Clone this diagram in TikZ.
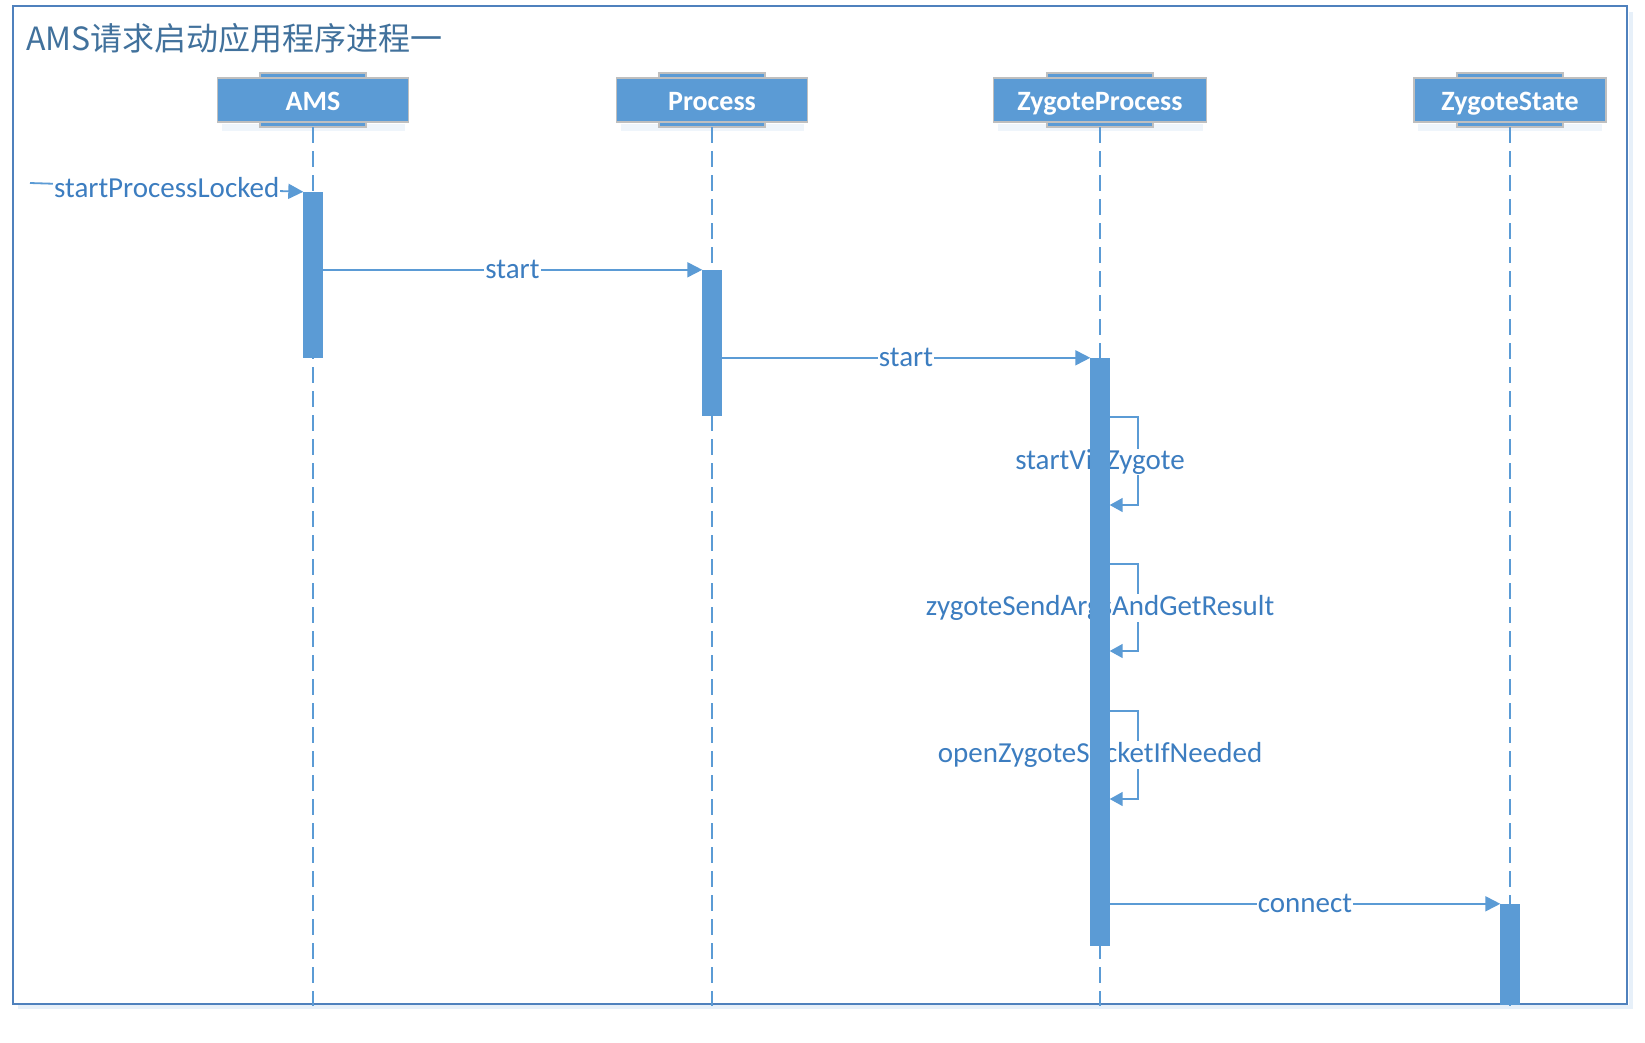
\documentclass[tikz,border=0pt]{standalone}
\usepackage{fontspec}
\setmainfont{Carlito}
\newfontfamily\cjkfont{Noto Sans CJK SC}
\usetikzlibrary{arrows.meta}
\definecolor{lineblue}{HTML}{5B9BD5}
\definecolor{txtblue}{HTML}{3C7DC0}
\definecolor{frameblue}{HTML}{4F81BD}
\definecolor{titleblue}{HTML}{41719C}
\definecolor{headborder}{HTML}{BFBFBF}
\tikzset{
  headbox/.style={rectangle, fill=lineblue, draw=headborder, line width=1.5pt,
    minimum height=44pt, inner sep=0pt, text=white, text height=22.4pt, text depth=0.7pt,
    font=\fontsize{28}{30}\selectfont\bfseries},
  headtab/.style={fill=lineblue, draw=headborder, line width=1.5pt},
  lifeline/.style={draw=lineblue, line width=1.8pt, dash pattern=on 16pt off 8pt},
  actbar/.style={rectangle, draw=none, inner sep=0pt, minimum width=19pt},
  msg/.style={draw=lineblue, line width=1.8pt, -{Triangle[length=15pt,width=15pt]}},
  selfmsg/.style={draw=lineblue, line width=1.6pt, -{Triangle[length=13pt,width=14pt]}},
  msglabel/.style={fill=white, inner sep=1pt, text=txtblue,
    font=\fontsize{29}{31}\selectfont},
}
\begin{document}
\begin{tikzpicture}[x=1pt,y=-1pt]
\useasboundingbox (0,0) rectangle (1645,1042);
\fill[white] (0,0) rectangle (1645,1042);
% frame with soft shadow
\draw[lineblue!15, line width=4pt] (18,1007) -- (1631,1007) -- (1631,12);
\draw[frameblue, line width=1.5pt] (13,6) rectangle (1627,1004);
\node[anchor=west, text=titleblue, inner sep=0pt, font=\cjkfont\fontsize{32}{35}\selectfont] (title) at (26,38) {AMS请求启动应用程序进程一};

% lifeline heads
\foreach \x/\w/\nm/\txt in {313/191/ams/AMS, 712/191/proc/Process, 1100/213/zp/ZygoteProcess, 1510/192/zs/ZygoteState}{
  \fill[lineblue!10] (\x-\w/2+4,124) rectangle (\x+\w/2-4,131);
  \filldraw[headtab] (\x-53,73) rectangle (\x+53,127);
  \node[headbox, minimum width=\w pt] (\nm) at (\x,100) {\txt};
}

% lifelines
\coordinate (amsend) at (313,1006);
\coordinate (procend) at (712,1006);
\coordinate (zpend) at (1100,1006);
\coordinate (zsend) at (1510,1006);
\draw[lifeline] (ams.south |- 0,127) -- (amsend);
\draw[lifeline] (proc.south |- 0,127) -- (procend);
\draw[lifeline] (zp.south |- 0,127) -- (zpend);
\draw[lifeline] (zs.south |- 0,127) -- (zsend);

% activation bars (placeholders)
\node[actbar, minimum height=166pt] (b1) at (313,275) {};
\node[actbar, minimum height=146pt] (b2) at (712,343) {};
\node[actbar, minimum height=588pt] (b3) at (1100,652) {};
\node[actbar, minimum height=101pt] (b4) at (1510,954.5) {};

% messages
\coordinate (ext) at (30,183);
\draw[msg] (ext) -- (b1.north west) node[msglabel, pos=0.5] {startProcessLocked};
\draw[msg] (b1.east |- b2.north) -- (b2.north west) node[msglabel, midway] {start};
\draw[msg] (b2.east |- b3.north) -- (b3.north west) node[msglabel, midway] {start};
\draw[msg] (b3.east |- b4.north) -- (b4.north west) node[msglabel, midway] {connect};

% self messages
\draw[selfmsg] (b3.east |- 0,417) -- ++(28,0) |- (b3.east |- 0,505);
\node[msglabel] (l1) at (b3.center |- 0,462) {startViaZygote};
\draw[selfmsg] (b3.east |- 0,564) -- ++(28,0) |- (b3.east |- 0,651);
\node[msglabel] (l2) at (b3.center |- 0,608) {zygoteSendArgsAndGetResult};
\draw[selfmsg] (b3.east |- 0,711) -- ++(28,0) |- (b3.east |- 0,799);
\node[msglabel] (l3) at (b3.center |- 0,755) {openZygoteSocketIfNeeded};

% bars on top
\foreach \b in {b1,b2,b3,b4}{
  \fill[lineblue] (\b.north west) rectangle (\b.south east);
}
\end{tikzpicture}
\end{document}
